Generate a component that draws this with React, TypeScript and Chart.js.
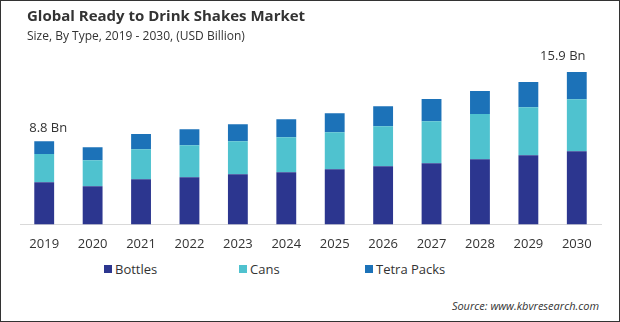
import React, { useEffect, useRef } from "react";
import { Chart, registerables } from "chart.js";

Chart.register(...registerables);

const years = ["2019", "2020", "2021", "2022", "2023", "2024", "2025", "2026", "2027", "2028", "2029", "2030"];
const bottles = [4.42, 4.0, 4.74, 4.95, 5.26, 5.47, 5.79, 6.1, 6.42, 6.84, 7.26, 7.68];
const cans = [2.98, 2.74, 3.16, 3.37, 3.47, 3.68, 3.89, 4.21, 4.42, 4.74, 5.05, 5.47];
const tetraPacks = [1.34, 1.37, 1.58, 1.68, 1.79, 1.89, 2.0, 2.1, 2.32, 2.42, 2.63, 2.84];
const totalLabels: Record<number, string> = { 0: "8.8 Bn", 11: "15.9 Bn" };

const COLORS = { bottles: "#2c368f", cans: "#4fc2cf", tetra: "#1c72b8" };
const FONT = "'Open Sans', 'Noto Sans', sans-serif";

const labelPlugin = {
  id: "totalLabels",
  afterDatasetsDraw(chart: any) {
    const ctx = chart.ctx;
    const meta = chart.getDatasetMeta(2);
    ctx.save();
    ctx.font = `13px ${FONT}`;
    ctx.fillStyle = "#333";
    ctx.textAlign = "center";
    ctx.textBaseline = "middle";
    Object.keys(totalLabels).forEach((k) => {
      const i = Number(k);
      const el = meta.data[i];
      const dx = i === 0 ? 4 : -14;
      const dy = i === 0 ? 13 : 16;
      ctx.fillText(totalLabels[i], el.x + dx, el.y - dy);
    });
    ctx.restore();
  },
};

export default function App() {
  const ref = useRef<HTMLCanvasElement>(null);
  useEffect(() => {
    document.body.style.margin = "0";
    const chart = new Chart(ref.current!, {
      type: "bar",
      data: {
        labels: years,
        datasets: [
          { label: "Bottles", data: bottles, backgroundColor: COLORS.bottles },
          { label: "Cans", data: cans, backgroundColor: COLORS.cans },
          { label: "Tetra Packs", data: tetraPacks, backgroundColor: COLORS.tetra },
        ],
      },
      options: {
        animation: false,
        responsive: false,
        maintainAspectRatio: false,
        layout: { padding: { left: 20, right: 19, top: 72, bottom: 0 } },
        datasets: { bar: { categoryPercentage: 1, barPercentage: 0.41 } },
        plugins: { legend: { display: false }, tooltip: { enabled: false }, title: { display: false } },
        scales: {
          x: {
            stacked: true,
            grid: { display: false },
            border: { display: true, color: "#d9d9d9", width: 1 },
            ticks: { color: "#333", font: { family: FONT, size: 13 }, padding: 4 },
          },
          y: { stacked: true, display: false, min: 0, max: 16 },
        },
      },
      plugins: [labelPlugin],
    });
    return () => chart.destroy();
  }, []);

  const legendItems = [
    { label: "Bottles", color: COLORS.bottles, left: 104 },
    { label: "Cans", color: COLORS.cans, left: 239 },
    { label: "Tetra Packs", color: COLORS.tetra, left: 365 },
  ];

  return (
    <div style={{ position: "relative", width: 620, height: 322, background: "#fff", fontFamily: FONT, overflow: "hidden" }}>
      <canvas ref={ref} width={620} height={256} style={{ position: "absolute", left: 0, top: 0 }} />
      <div style={{ position: "absolute", left: 27, top: 5, fontSize: 15, fontWeight: 700, color: "#333", whiteSpace: "nowrap" }}>
        Global Ready to Drink Shakes Market
      </div>
      <div style={{ position: "absolute", left: 27, top: 27, fontSize: 12, color: "#333", whiteSpace: "nowrap" }}>
        Size, By Type, 2019 - 2030, (USD Billion)
      </div>
      {legendItems.map((it) => (
        <div key={it.label} style={{ position: "absolute", left: it.left, top: 260, display: "flex", alignItems: "center", fontSize: 13, color: "#333", whiteSpace: "nowrap" }}>
          <span style={{ display: "inline-block", width: 8, height: 8, background: it.color, marginRight: 3 }} />
          <span>{it.label}</span>
        </div>
      ))}
      <div style={{ position: "absolute", right: 21, top: 298, fontSize: 11, fontStyle: "italic", color: "#333", whiteSpace: "nowrap" }}>
        Source: www.kbvresearch.com
      </div>
      <div style={{ position: "absolute", inset: 0, border: "1px solid #333", pointerEvents: "none" }} />
    </div>
  );
}
